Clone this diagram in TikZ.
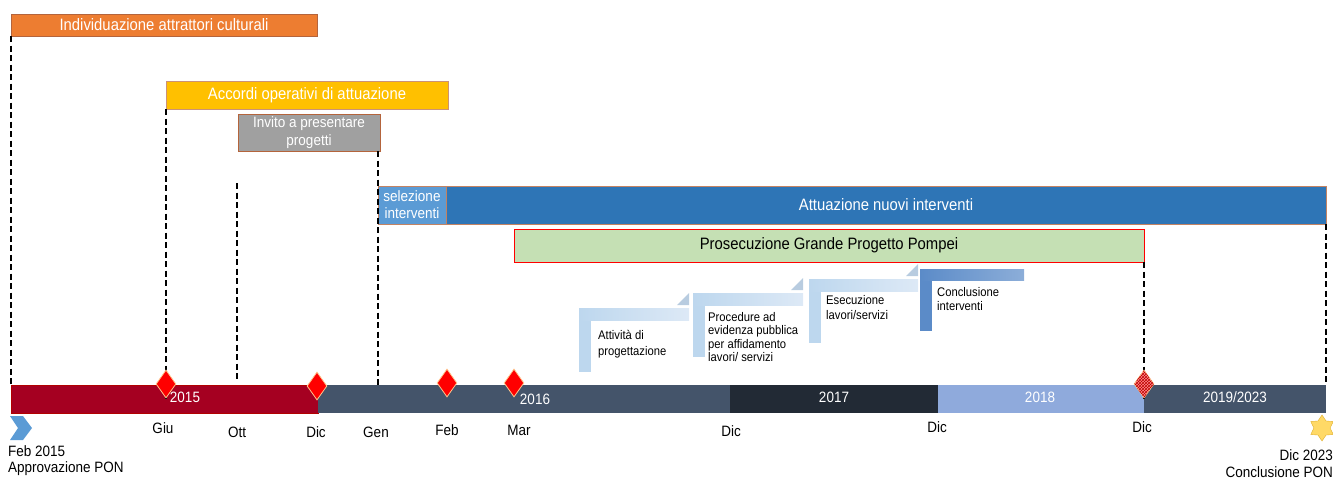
\documentclass[tikz,border=0pt]{standalone}
\usepackage{fontspec}
\setmainfont{Liberation Sans}[FakeStretch=0.9]
\usetikzlibrary{shapes.geometric,patterns}
\definecolor{corange}{HTML}{ED7D31}
\definecolor{cyellow}{HTML}{FFC000}
\definecolor{cgray}{HTML}{A0A0A0}
\definecolor{cbrown}{HTML}{B4643C}
\definecolor{csel}{HTML}{5B9BD5}
\definecolor{catt}{HTML}{2E75B6}
\definecolor{cgreen}{HTML}{C5E0B4}
\definecolor{cred}{HTML}{A50021}
\definecolor{cslate}{HTML}{44546A}
\definecolor{cdark}{HTML}{222A35}
\definecolor{clight}{HTML}{8FAADC}
\definecolor{cstep}{HTML}{BDD7EE}
\definecolor{csteplt}{HTML}{DDE9F6}
\definecolor{ctri}{HTML}{B8CCE0}
\definecolor{cstepdk}{HTML}{5B8BC8}
\definecolor{cstar}{HTML}{FFD966}
\definecolor{cstard}{HTML}{E0B030}
\tikzset{
  bar/.style={rectangle, inner sep=0pt, text=white, font=\fontsize{16.5}{19}\selectfont},
  segm/.style={rectangle, inner sep=0pt, minimum height=28},
  seglbl/.style={inner sep=0pt, text=white, font=\fontsize{15}{18}\selectfont},
  mon/.style={inner sep=0pt, text=black, font=\fontsize{15}{18}\selectfont},
  steptxt/.style={inner sep=0pt, text=black, align=left},
  dline/.style={black, line width=1.8pt, dash pattern=on 6pt off 3.5pt},
  milestone/.style={diamond, inner sep=0pt, minimum width=20, minimum height=28, fill=red, draw=orange!45, line width=0.8pt}
}
\begin{document}
\begin{tikzpicture}[x=1pt,y=-1pt]
\useasboundingbox (0,0) rectangle (1333,479);

% axis segments
\node[segm, fill=cred, draw=red!70!black, minimum width=307] (seg2015) at (164.5,399) {};
\node[segm, fill=cslate, minimum width=412] (seg2016) at (524,399) {};
\node[segm, fill=cdark, minimum width=208] (seg2017) at (834,399) {};
\node[segm, fill=clight, minimum width=206] (seg2018) at (1041,399) {};
\node[segm, fill=cslate, minimum width=182] (seg2019) at (1235,399) {};
\node[seglbl] (l2015) at (185,397) {2015};
\node[seglbl] (l2016) at (535,399) {2016};
\node[seglbl] (l2017) at (834,397) {2017};
\node[seglbl] (l2018) at (1040,397) {2018};
\node[seglbl] (l2019) at (1235,397) {2019/2023};

% bars
\node[bar, fill=corange, draw=cbrown, minimum width=306, minimum height=22] (indiv) at (164,25) {Individuazione attrattori culturali};
\node[bar, fill=cyellow, draw=cbrown!70, minimum width=282, minimum height=28] (accordi) at (307,95) {Accordi operativi di attuazione};
\node[bar, fill=cgray, draw=cbrown, minimum width=142, minimum height=37, align=center, font=\fontsize{15}{18}\selectfont] (invito) at (309,132.5) {Invito a presentare\\progetti};
\node[bar, fill=csel, draw=cbrown!80, minimum width=68, minimum height=38, align=center, font=\fontsize{15}{17}\selectfont] (sel) at (412,205) {selezione\\interventi};
\node[bar, fill=catt, draw=cbrown!80, minimum width=880, minimum height=38] (att) at (886,205) {Attuazione nuovi interventi};
\node[bar, fill=cgreen, draw=red, text=black, minimum width=630, minimum height=33] (green) at (829,245.5) {Prosecuzione Grande Progetto Pompei};

% dashed guide lines
\coordinate (ottTop) at (237,183);
\coordinate (ottBot) at (237,380);
\draw[dline] (indiv.south west) -- (indiv.south west |- seg2015.north);
\draw[dline] (accordi.south west) -- ([yshift=-14pt]accordi.south west |- seg2015.north);
\draw[dline] (ottTop) -- (ottBot);
\draw[dline] (sel.north west |- invito.south) -- (sel.north west |- seg2016.north);
\draw[dline] (green.south east) -- ([yshift=-14pt]green.south east |- seg2018.north);
\draw[dline] (att.south east) -- (att.south east |- seg2019.north);

% milestones
\node[milestone] (dGiu) at (166,384) {};
\node[milestone] (dDic15) at (317,386) {};
\node[milestone] (dFeb) at (447,383) {};
\node[milestone] (dMar) at (514,383) {};
\node[milestone, fill=red!45, postaction={pattern=crosshatch, pattern color=red!75!black}] (dDic18) at (1144,384) {};

% start chevron and end star
\fill[csel] (10,416) -- (23,416) -- (32,428) -- (23,440) -- (10,440) -- (18,428) -- cycle;
\node[star, star points=6, star point ratio=1.6, minimum size=26, inner sep=0pt, fill=cstar, draw=cstard] (endstar) at (1322,428) {};

% month labels
\node[mon] (mGiu) at (163,428) {Giu};
\node[mon] (mOtt) at (237,432) {Ott};
\node[mon] (mDic15) at (316,432) {Dic};
\node[mon] (mGen) at (376,432) {Gen};
\node[mon] (mFeb) at (447,430) {Feb};
\node[mon] (mMar) at (519,430) {Mar};
\node[mon] (mDic16) at (731,431) {Dic};
\node[mon] (mDic17) at (937,427) {Dic};
\node[mon] (mDic18) at (1142,427) {Dic};
\node[mon, anchor=west] (start1) at (8,451) {Feb 2015};
\node[mon, anchor=west] (start2) at (8,469) {Approvazione PON};
\node[mon, anchor=east] (end1) at (1333,455) {Dic 2023};
\node[mon, anchor=east] (end2) at (1333,472) {Conclusione PON};

% step-up process
\fill[cstep] (579,372) -- (579,308) -- (591,308) -- (591,372) -- cycle;
\shade[left color=cstep, right color=csteplt] (579,308) rectangle (689,320);
\fill[ctri] (677,305) -- (689,305) -- (689,293) -- cycle;
\fill[cstep] (693,357) -- (693,293) -- (705,293) -- (705,357) -- cycle;
\shade[left color=cstep, right color=csteplt] (693,293) rectangle (803,305);
\fill[ctri] (791,290) -- (803,290) -- (803,278) -- cycle;
\fill[cstep] (809,343) -- (809,279) -- (821,279) -- (821,343) -- cycle;
\shade[left color=cstep, right color=csteplt] (809,279) rectangle (918,291);
\fill[ctri] (906,276) -- (918,276) -- (918,264) -- cycle;
\fill[cstepdk] (920,331) -- (920,269) -- (932,269) -- (932,331) -- cycle;
\shade[left color=cstepdk, right color=cstepdk!70!white] (920,269) rectangle (1024,280);

\node[steptxt, anchor=west, font=\fontsize{12.5}{16}\selectfont] (s1) at (598,344) {Attività di\\progettazione};
\node[steptxt, anchor=west, font=\fontsize{12.5}{13.5}\selectfont] (s2) at (708,337) {Procedure ad\\evidenza pubblica\\per affidamento\\lavori/ servizi};
\node[steptxt, anchor=west, font=\fontsize{12.5}{15}\selectfont] (s3) at (826,308) {Esecuzione\\lavori/servizi};
\node[steptxt, anchor=west, font=\fontsize{12.5}{14}\selectfont] (s4) at (937,299) {Conclusione\\interventi};
\end{tikzpicture}
\end{document}
